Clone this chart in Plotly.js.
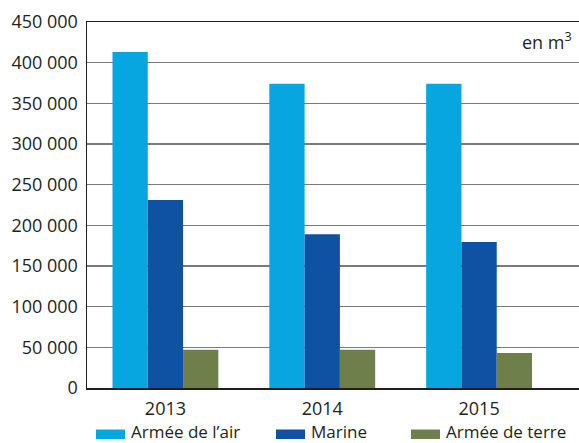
<!DOCTYPE html>
<html>
<head>
<meta charset="utf-8">
<script src="https://cdn.plot.ly/plotly-3.0.1.min.js"></script>
<style>
  html, body { margin: 0; padding: 0; background: #fff; }
  #chart { width: 579px; height: 443px; }
</style>
</head>
<body>
<div id="chart"></div>
<script>
    // ---- données (en m3) ----
    let annees = ['2013', '2014', '2015'];
    let air = [413000, 374000, 374000];
    let marine = [231000, 189000, 179500];
    let terre = [47000, 47000, 43000];

    let noms = ['Armée de l\u2019air', 'Marine', 'Armée de terre'];
    let couleurs = ['#08a6e0', '#0f52a3', '#6f7f4b'];
    let yTicks = [0, 50000, 100000, 150000, 200000, 250000, 300000, 350000, 400000, 450000];

    let series = [air, marine, terre];
    let traces = series.map((vals, i) => ({
        x: annees, y: vals, type: 'bar', name: noms[i],
        marker: {color: couleurs[i]}, hoverinfo: 'none'
    }));

    // legende maison (petits rectangles) sous le graphique
    let legX = [96, 276, 411];
    let shapes = [];
    let annotations = [];
    noms.forEach((n, i) => {
        shapes.push({type: 'rect', xref: 'paper', yref: 'paper',
            x0: (legX[i] - 87) / 492, x1: (legX[i] + 29 - 87) / 492,
            y0: -(429.5 - 388) / 366, y1: -(439 - 388) / 366,
            fillcolor: couleurs[i], line: {width: 0}});
        annotations.push({xref: 'paper', yref: 'paper', text: n, showarrow: false,
            x: (legX[i] + 33 - 87) / 492, y: -(431.5 - 388) / 366,
            xanchor: 'left', yanchor: 'middle',
            font: {family: 'Open Sans', size: 17, color: '#231f20'}});
    });
    annotations.push({xref: 'paper', yref: 'paper', text: 'en m<sup>3</sup>', showarrow: false,
        x: 1, y: 1 - (41 - 22) / 366, xanchor: 'right', yanchor: 'middle', xshift: -5,
        font: {family: 'Open Sans', size: 18, color: '#231f20'}});

    Plotly.newPlot('chart', traces, {
        width: 579, height: 443,
        margin: {l: 87, r: 0, t: 22, b: 55},
        paper_bgcolor: '#fff', plot_bgcolor: '#fff',
        separators: ', ',
        font: {family: 'Open Sans', size: 18, color: '#231f20'},
        showlegend: false,
        barmode: 'group', bargap: 0.325, bargroupgap: 0,
        xaxis: {type: 'category', range: [-0.5, 2.637], showgrid: false, showline: true, mirror: true,
            linecolor: '#231f20', linewidth: 1.5, ticks: '', ticklabelstandoff: 4,
            tickfont: {size: 18}},
        yaxis: {range: [0, 450000], tickvals: yTicks, tickformat: ',d',
            showgrid: true, gridcolor: '#7a7a7a', gridwidth: 1.2,
            showline: true, linecolor: '#231f20', linewidth: 1.5,
            zeroline: false, ticks: '', ticklabelstandoff: 4, tickfont: {size: 18}},
        shapes: shapes,
        annotations: annotations
    }, {staticPlot: true});
</script>
</body>
</html>
